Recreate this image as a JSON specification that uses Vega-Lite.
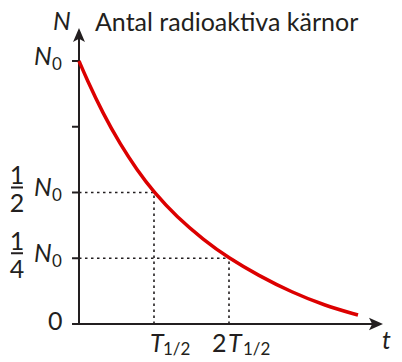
{
  "$schema": "https://vega.github.io/schema/vega-lite/v6.json",
  "width": 402,
  "height": 362,
  "autosize": "none",
  "padding": 0,
  "background": "white",
  "config": {"view": {"stroke": null}},
  "datasets": {
    "curve": [
      {"x": 0, "y": 1}, {"x": 0.1, "y": 0.933}, {"x": 0.32, "y": 0.8}, {"x": 0.55, "y": 0.683},
      {"x": 0.77, "y": 0.587}, {"x": 1.0, "y": 0.5}, {"x": 1.3, "y": 0.408}, {"x": 1.66, "y": 0.32},
      {"x": 2.0, "y": 0.25}, {"x": 2.39, "y": 0.185}, {"x": 2.84, "y": 0.12}, {"x": 3.28, "y": 0.07},
      {"x": 3.72, "y": 0.034}
    ],
    "dotted": [
      {"x": 0, "y": 0.5, "x2": 1, "y2": 0.5},
      {"x": 1, "y": 0, "x2": 1, "y2": 0.5},
      {"x": 0, "y": 0.25, "x2": 2, "y2": 0.25},
      {"x": 2, "y": 0, "x2": 2, "y2": 0.25}
    ],
    "axes": [
      {"x": -0.093, "y": 0, "x2": 3.96, "y2": 0},
      {"x": 0, "y": 0, "x2": 0, "y2": 1.099},
      {"x": -0.093, "y": 1, "x2": 0, "y2": 1},
      {"x": -0.093, "y": 0.75, "x2": 0, "y2": 0.75},
      {"x": -0.093, "y": 0.5, "x2": 0, "y2": 0.5},
      {"x": -0.093, "y": 0.25, "x2": 0, "y2": 0.25},
      {"x": -0.9067, "y": 0.519, "x2": -0.7467, "y2": 0.519},
      {"x": -0.9067, "y": 0.269, "x2": -0.7467, "y2": 0.269}
    ],
    "arrowUp": [{"x": 0, "y": 1.099}],
    "arrowRight": [{"x": 3.96, "y": 0}],
    "italic": [
      {"x": -0.3467, "y": 1.1179, "t": "N"},
      {"x": -0.6, "y": 0.9848, "t": "N"},
      {"x": -0.6, "y": 0.4848, "t": "N"},
      {"x": -0.6, "y": 0.2348, "t": "N"},
      {"x": 0.9467, "y": -0.1065, "t": "T"},
      {"x": 1.9867, "y": -0.1065, "t": "T"},
      {"x": 4.04, "y": -0.0951, "t": "t"}
    ],
    "regular": [
      {"x": 0.2133, "y": 1.1141, "t": "Antal radioaktiva kärnor"},
      {"x": -0.413, "y": -0.0228, "t": "0"},
      {"x": 1.7733, "y": -0.1065, "t": "2"}
    ],
    "frac": [
      {"x": -0.8267, "y": 0.5304, "t": "1"},
      {"x": -0.8267, "y": 0.424, "t": "2"},
      {"x": -0.8267, "y": 0.2804, "t": "1"},
      {"x": -0.8267, "y": 0.174, "t": "4"}
    ],
    "sub": [
      {"x": -0.36, "y": 0.966, "t": "0"},
      {"x": -0.36, "y": 0.466, "t": "0"},
      {"x": -0.36, "y": 0.216, "t": "0"},
      {"x": 1.12, "y": -0.1179, "t": "1/2"},
      {"x": 2.1867, "y": -0.1179, "t": "1/2"}
    ]
  },
  "encoding": {
    "x": {"field": "x", "type": "quantitative", "scale": {"domain": [-1.0533, 4.3067], "nice": false, "zero": false}, "axis": null},
    "y": {"field": "y", "type": "quantitative", "scale": {"domain": [-0.1445, 1.2319], "nice": false, "zero": false}, "axis": null}
  },
  "layer": [
    {
      "data": {"name": "dotted"},
      "mark": {"type": "rule", "stroke": "#231f20", "strokeWidth": 1.6, "strokeDash": [2.5, 3.5]},
      "encoding": {"x2": {"field": "x2"}, "y2": {"field": "y2"}}
    },
    {
      "data": {"name": "axes"},
      "mark": {"type": "rule", "stroke": "#231f20", "strokeWidth": 2},
      "encoding": {"x2": {"field": "x2"}, "y2": {"field": "y2"}}
    },
    {
      "data": {"name": "arrowUp"},
      "mark": {"type": "point", "shape": "M0,-1L0.85,1L0,0.55L-0.85,1Z", "size": 196, "filled": true, "fill": "#231f20", "opacity": 1, "strokeWidth": 0}
    },
    {
      "data": {"name": "arrowRight"},
      "mark": {"type": "point", "shape": "M1,0L-1,0.9L-0.55,0L-1,-0.9Z", "size": 196, "filled": true, "fill": "#231f20", "opacity": 1, "strokeWidth": 0}
    },
    {
      "data": {"name": "curve"},
      "mark": {"type": "line", "stroke": "#dc0000", "strokeWidth": 3.5, "interpolate": "basis", "strokeCap": "butt"}
    },
    {
      "data": {"name": "italic"},
      "mark": {"type": "text", "font": "Lato", "fontStyle": "italic", "fontSize": 25, "align": "left", "baseline": "alphabetic", "fill": "#231f20"},
      "encoding": {"text": {"field": "t"}}
    },
    {
      "data": {"name": "regular"},
      "mark": {"type": "text", "font": "Lato", "fontSize": 25, "align": "left", "baseline": "alphabetic", "fill": "#231f20"},
      "encoding": {"text": {"field": "t"}}
    },
    {
      "data": {"name": "frac"},
      "mark": {"type": "text", "font": "Lato", "fontSize": 25, "align": "center", "baseline": "alphabetic", "fill": "#231f20"},
      "encoding": {"text": {"field": "t"}}
    },
    {
      "data": {"name": "sub"},
      "mark": {"type": "text", "font": "Lato", "fontSize": 17, "align": "left", "baseline": "alphabetic", "fill": "#231f20"},
      "encoding": {"text": {"field": "t"}}
    }
  ]
}
